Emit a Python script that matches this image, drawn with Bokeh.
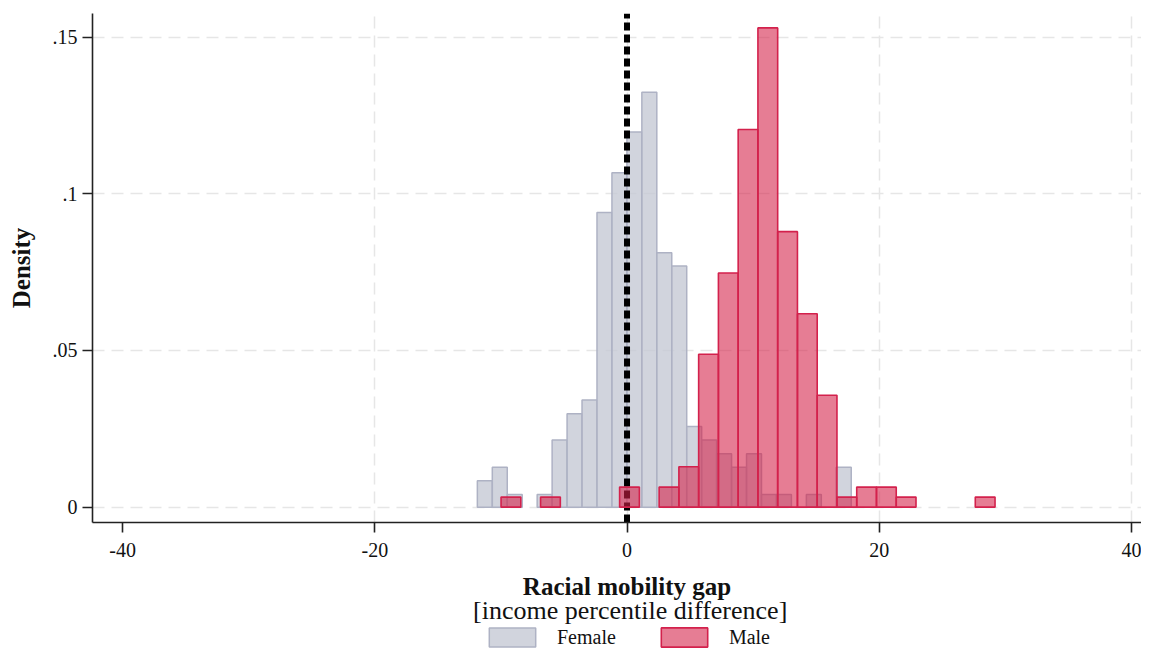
import math
from bokeh.plotting import figure
from bokeh.layouts import column
from bokeh.models import Range1d, FixedTicker, Legend, LegendItem
from bokeh.core.properties import value
from bokeh.embed import file_html
from bokeh.resources import INLINE

# ---- data ----
female_start = -11.87
female_width = 1.186
female_density = [0.0084, 0.0127, 0.0040, 0.0, 0.0040, 0.0214, 0.0298, 0.0342,
                  0.0940, 0.1067, 0.1197, 0.1324, 0.0812, 0.0769, 0.0257, 0.0214,
                  0.0170, 0.0127, 0.0170, 0.0040, 0.0040, 0.0, 0.0040, 0.0, 0.0127]

male_start = -9.99
male_width = 1.567
male_density = [0.0032, 0.0, 0.0032, 0.0, 0.0, 0.0, 0.0064, 0.0, 0.0064, 0.0129,
                0.0488, 0.0747, 0.1205, 0.1529, 0.0879, 0.0617, 0.0357, 0.0032,
                0.0064, 0.0064, 0.0032, 0.0, 0.0, 0.0, 0.0032]

reference_x = 0
x_ticks = [-40, -20, 0, 20, 40]
x_tick_labels = ["-40", "-20", "0", "20", "40"]
x_grid_ticks = [-20, 0, 20, 40]
y_ticks = [0, 0.05, 0.1, 0.15]
y_tick_labels = ["0", ".05", ".1", ".15"]

series_names = ["Female", "Male"]
x_title = "Racial mobility gap"
x_subtitle = "[income percentile difference]"
y_title = "Density"

FONT = "Liberation Serif"
FEMALE_STYLE = dict(fill_color="#c5c9d4", fill_alpha=0.8, line_color="#aeb2c4",
                    line_width=1.5)
MALE_STYLE = dict(fill_color="#d41f47", fill_alpha=0.58, line_color="#d3214c",
                  line_width=1.6)


def bins(start, width, dens):
    l, r, t = [], [], []
    for i, d in enumerate(dens):
        if d > 0:
            l.append(start + i * width)
            r.append(start + (i + 1) * width)
            t.append(d)
    return l, r, t


W = 1141
H1 = 570
H2 = 649 - H1
x_lo, x_hi = -42.39, 40.80
y_lo, y_hi = -0.0049, 0.1575

# ---------------- main chart ----------------
p = figure(width=W, height=H1, output_backend="svg", toolbar_location=None,
           x_range=Range1d(x_lo, x_hi), y_range=Range1d(y_lo, y_hi),
           min_border_left=92, min_border_right=0, min_border_top=13,
           min_border_bottom=H1 - 522)
p.outline_line_color = None
p.background_fill_color = "white"

p.xgrid.ticker = FixedTicker(ticks=x_grid_ticks)
p.ygrid.ticker = FixedTicker(ticks=y_ticks)
for g in (p.xgrid, p.ygrid):
    g.grid_line_color = "#e6e6e6"
    g.grid_line_width = 1.5
    g.grid_line_dash = "12 7"

fl, fr, ft = bins(female_start, female_width, female_density)
ml, mr, mt = bins(male_start, male_width, male_density)

p.quad(left=fl, right=fr, bottom=0, top=ft, **FEMALE_STYLE)
p.segment(x0=[reference_x], y0=[y_lo], x1=[reference_x], y1=[y_hi],
          line_color="black", line_width=6, line_dash="8 4")
p.quad(left=ml, right=mr, bottom=0, top=mt, **MALE_STYLE)

for ax in (p.xaxis, p.yaxis):
    ax.axis_line_color = "#222222"
    ax.axis_line_width = 1.6
    ax.major_tick_line_color = "#222222"
    ax.major_tick_line_width = 1.6
    ax.major_tick_out = 10
    ax.major_tick_in = 0
    ax.minor_tick_line_color = None
    ax.major_label_text_font = FONT
    ax.major_label_text_font_size = "20px"
    ax.major_label_text_color = "#111111"

p.xaxis.ticker = FixedTicker(ticks=x_ticks)
p.xaxis.major_label_overrides = {t: s for t, s in zip(x_ticks, x_tick_labels)}
p.xaxis.major_label_standoff = 10
p.yaxis.ticker = FixedTicker(ticks=y_ticks)
p.yaxis.major_label_overrides = {t: s for t, s in zip(y_ticks, y_tick_labels)}
p.yaxis.major_label_standoff = 5
p.yaxis.axis_label = y_title
p.yaxis.axis_label_text_font = FONT
p.yaxis.axis_label_text_font_size = "25px"
p.yaxis.axis_label_text_font_style = "bold"
p.yaxis.axis_label_text_color = "#111111"
p.yaxis.axis_label_standoff = 15

# ---------------- title + legend strip ----------------
q = figure(width=W, height=H2, output_backend="svg", toolbar_location=None,
           x_range=p.x_range, y_range=Range1d(0, H2),
           x_axis_location=None, y_axis_location=None,
           min_border_left=92, min_border_right=0, min_border_top=0,
           min_border_bottom=0)
q.outline_line_color = None
q.grid.visible = False

q.text(x=[0], y=[H2 - 16], text=[x_title], text_font=value(FONT),
       text_font_size="25px", text_font_style="bold", text_align="center",
       text_baseline="alphabetic", text_color="#111111")
q.text(x=[0.25], y=[H2 - 40], text=[x_subtitle], text_font=value(FONT),
       text_font_size="26px", text_align="center",
       text_baseline="alphabetic", text_color="#111111")

# legend swatches (renderers placed outside the visible strip)
lf = q.quad(left=[x_hi + 5], right=[x_hi + 6], bottom=[0], top=[1], **FEMALE_STYLE)
lm = q.quad(left=[x_hi + 5], right=[x_hi + 6], bottom=[0], top=[1], **MALE_STYLE)
legend = Legend(items=[LegendItem(label=series_names[0], renderers=[lf]),
                       LegendItem(label=series_names[1], renderers=[lm])],
                orientation="horizontal", location=(391, 0),
                glyph_width=58, glyph_height=24, label_standoff=16,
                spacing=39, padding=0, margin=0, border_line_color=None,
                background_fill_alpha=0, label_text_font=FONT,
                label_text_font_size="20px", label_text_color="#111111")
q.add_layout(legend, "center")

layout = column(p, q, spacing=0)
open("out.html", "w").write(file_html(layout, INLINE))
